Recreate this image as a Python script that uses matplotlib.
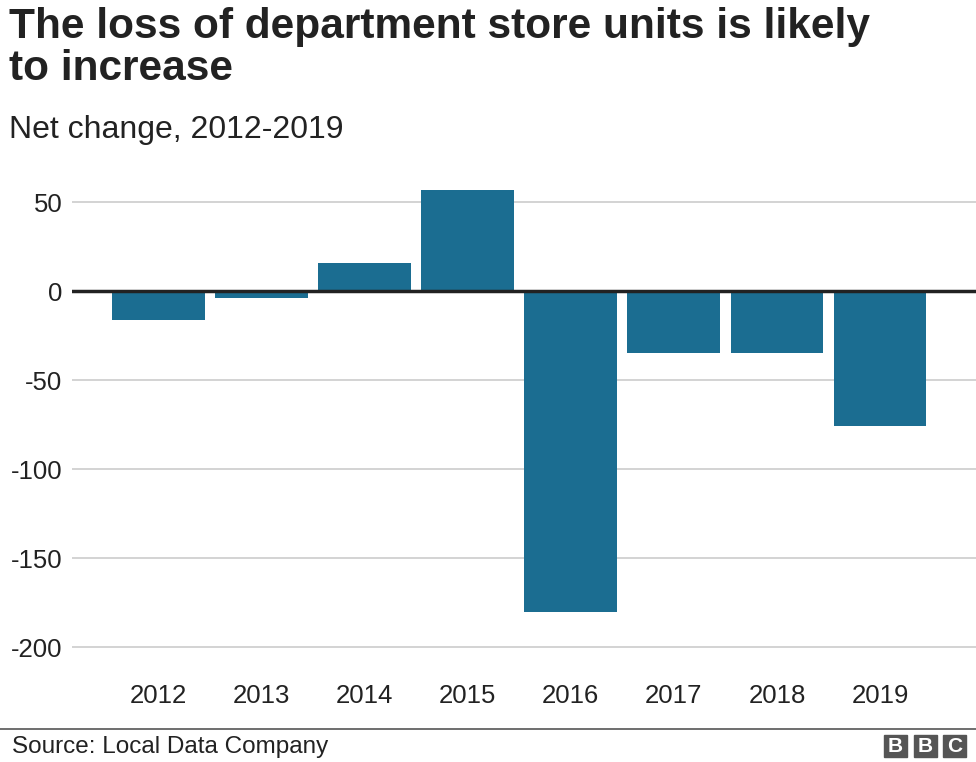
import matplotlib.pyplot as plt
from matplotlib.patches import Rectangle

years = ['2012', '2013', '2014', '2015', '2016', '2017', '2018', '2019']
net_change = [-16, -4, 16, 57, -180, -35, -35, -76]
yticks = [50, 0, -50, -100, -150, -200]

plt.rcParams['font.family'] = ['Liberation Sans', 'DejaVu Sans']

fig = plt.figure(figsize=(9.76, 7.62), dpi=100)
ax = fig.add_axes([72 / 976, 1 - 665 / 762, 1 - 72 / 976, 485 / 762])

ax.bar(range(len(years)), net_change, width=0.9, color='#1b6d91', zorder=2)
ax.axhline(0, color='#222222', lw=2.5, zorder=3)

ax.set_xlim(-0.835, 7.93)
ax.set_ylim(-210, 62.4)
ax.set_yticks(yticks)
ax.set_yticklabels([str(t) for t in yticks])
ax.set_xticks(range(len(years)))
ax.set_xticklabels(years)
ax.grid(axis='y', color='#cccccc', lw=1.2, zorder=0)
ax.tick_params(axis='y', length=0, pad=7, labelsize=18.5, colors='#222222')
ax.tick_params(axis='x', length=0, pad=14, labelsize=18.5, colors='#222222')
for s in ax.spines.values():
    s.set_visible(False)

fig.text(9 / 976, 1 - 7 / 762, 'The loss of department store units is likely\nto increase',
         fontsize=30.5, fontweight='bold', va='top', ha='left', color='#222222', linespacing=1.08)
fig.text(9 / 976, 1 - 115 / 762, 'Net change, 2012-2019', fontsize=23, va='top', ha='left',
         color='#222222')

# footer
fig.add_artist(plt.Line2D([0, 1], [1 - 729 / 762, 1 - 729 / 762], color='#555555', lw=1.2))
fig.text(12 / 976, 1 - 747 / 762, 'Source: Local Data Company', fontsize=17.5, va='center',
         ha='left', color='#222222')

# BBC logo
for i, letter in enumerate('BBC'):
    x0 = (884 + i * 29.5) / 976
    fig.add_artist(Rectangle((x0, 1 - 757 / 762), 23 / 976, 22 / 762,
                             transform=fig.transFigure, color='#555555'))
    fig.text(x0 + 11.5 / 976, 1 - 746 / 762, letter, fontsize=15, fontweight='bold',
             color='white', ha='center', va='center')

plt.savefig('out.png', dpi=100)
